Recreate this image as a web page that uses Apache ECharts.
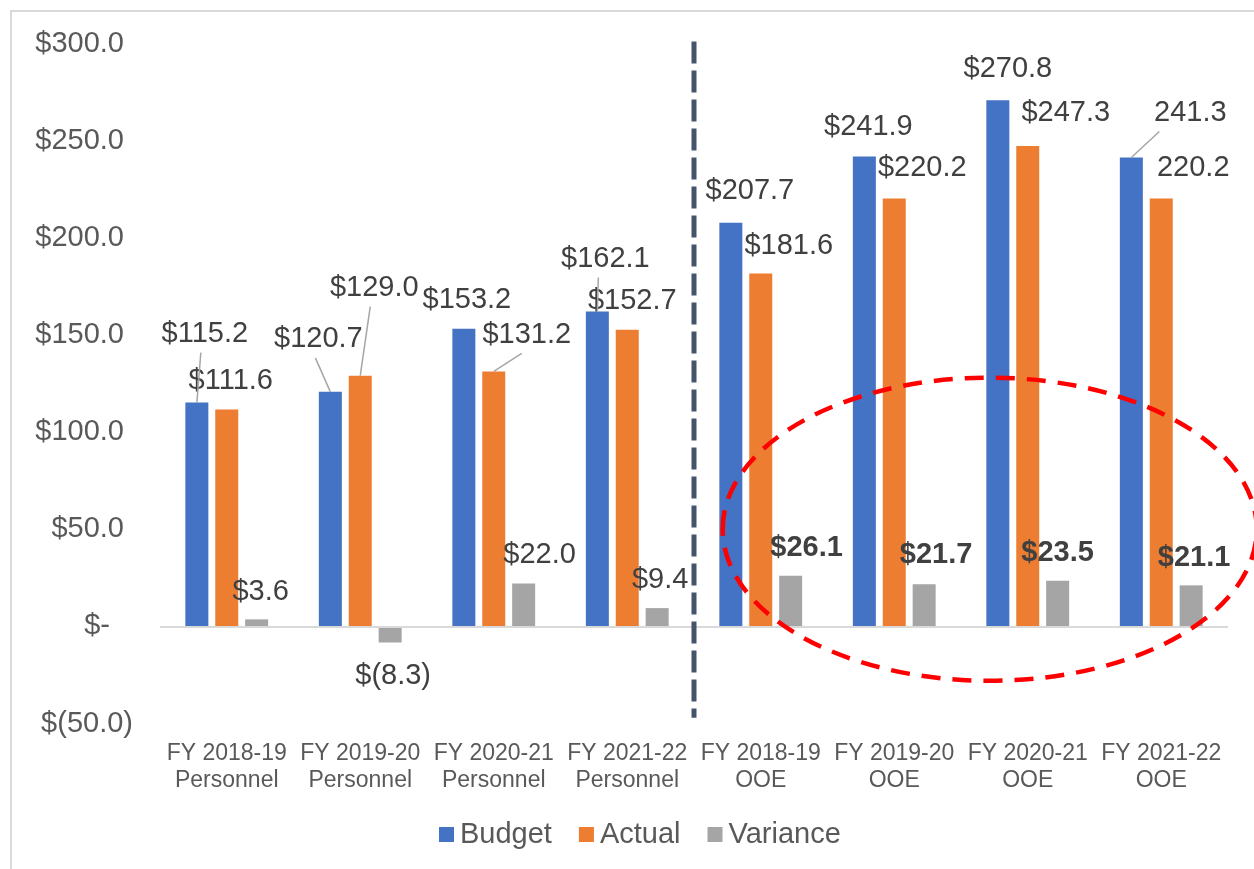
<!DOCTYPE html>
<html>
<head>
<meta charset="utf-8">
<script src="https://cdn.jsdelivr.net/npm/echarts/dist/echarts.min.js"></script>
<style>
  html, body { margin: 0; padding: 0; background: #fff; }
  #chart { width: 1254px; height: 869px; }
</style>
</head>
<body>
<div id="chart"></div>
<script>
// categories and values
const categories = [
  'FY 2018-19\nPersonnel', 'FY 2019-20\nPersonnel', 'FY 2020-21\nPersonnel', 'FY 2021-22\nPersonnel',
  'FY 2018-19\nOOE', 'FY 2019-20\nOOE', 'FY 2020-21\nOOE', 'FY 2021-22\nOOE'
];
const budget = [115.2, 120.7, 153.2, 162.1, 207.7, 241.9, 270.8, 241.3];
const actual = [111.6, 129.0, 131.2, 152.7, 181.6, 220.2, 247.3, 220.2];
const variance = [3.6, -8.3, 22.0, 9.4, 26.1, 21.7, 23.5, 21.1];
const yTicks = { min: -50, max: 300, step: 50 };

// labels shown without "$" in the source, and the bold variance labels
const bareLabelIdx = [7];
const boldVarianceIdx = [4, 5, 6, 7];

// label nudges (px) to mimic the hand-placed Excel labels
const budgetNudge = [[8, -49], [-12, -33], [3, -9], [8, -33], [19, -12], [4, -10], [10, -12], [59, -25]];
const actualNudge = [[4, -9], [14, -68], [33, -17], [5, -9], [28, -8], [28, -11], [38, -13], [32, -11]];
const varianceNudge = [[4, -8], [3, 14], [16, -9], [3, -9], [16, -8], [12, -10], [0, -8], [3, -8]];
// leader lines: [series, index, x shift at the label end]
const leaders = [[0, 0, -4], [0, 1, -3], [1, 1, -4], [1, 2, -5], [0, 3, -7], [0, 7, -31]];

const FONT = "'Liberation Sans', Arial, sans-serif";
const BAR_W = 23;
const BAR_GAP = 0.3;

function money(v) {
  if (v === 0) return '$-';
  if (v < 0) return '$(' + Math.abs(v).toFixed(1) + ')';
  return '$' + v.toFixed(1);
}

function barSeries(name, values, color, nudges, seriesIdx) {
  return {
    name: name,
    type: 'bar',
    barWidth: BAR_W,
    barGap: (BAR_GAP * 100) + '%',
    itemStyle: { color: color },
    label: {
      show: true,
      fontFamily: FONT,
      fontSize: 29,
      color: '#404040',
      formatter: p => {
        const v = p.value;
        if (seriesIdx < 2 && bareLabelIdx.includes(p.dataIndex)) return v.toFixed(1);
        return money(v);
      }
    },
    data: values.map((v, i) => ({
      value: v,
      label: {
        position: v < 0 ? 'bottom' : 'top',
        offset: nudges[i],
        fontWeight: (seriesIdx === 2 && boldVarianceIdx.includes(i)) ? 'bold' : 'normal'
      }
    }))
  };
}

const chart = echarts.init(document.getElementById('chart'));

const series = [
  barSeries('Budget', budget, '#4472C4', budgetNudge, 0),
  barSeries('Actual', actual, '#ED7D31', actualNudge, 1),
  barSeries('Variance', variance, '#A5A5A5', varianceNudge, 2)
];
// zero line across the plot
series[0].markLine = {
  silent: true,
  symbol: 'none',
  label: { show: false },
  lineStyle: { color: '#D9D9D9', width: 2, type: 'solid' },
  data: [{ yAxis: 0 }]
};

chart.setOption({
  animation: false,
  backgroundColor: '#fff',
  textStyle: { fontFamily: FONT },
  grid: { left: 160, right: 26, top: 43.5, bottom: 145.5, outerBoundsMode: 'none' },
  legend: {
    data: ['Budget', 'Actual', 'Variance'],
    left: 434,
    top: 815,
    itemWidth: 15,
    itemHeight: 15,
    itemGap: 27,
    icon: 'rect',
    textStyle: { fontFamily: FONT, fontSize: 29, color: '#595959', padding: [0, 0, 0, 1] }
  },
  xAxis: {
    type: 'category',
    data: categories,
    axisLine: { show: false, onZero: false },
    axisTick: { show: false },
    axisLabel: {
      fontFamily: FONT,
      fontSize: 23,
      lineHeight: 27,
      color: '#595959',
      margin: 17,
      interval: 0
    }
  },
  yAxis: {
    type: 'value',
    min: yTicks.min,
    max: yTicks.max,
    interval: yTicks.step,
    splitLine: { show: false },
    axisLine: { show: false },
    axisTick: { show: false },
    axisLabel: {
      fontFamily: FONT,
      fontSize: 29,
      color: '#595959',
      margin: 27,
      formatter: v => {
        if (v > 0) return money(v) + '{p| }';
        if (v === 0) return money(v) + '{z| }';
        return money(v);
      },
      rich: {
        p: { width: 9, fontSize: 29 },
        z: { width: 23, fontSize: 29 }
      }
    }
  },
  series: series
});

// overlay: frame, divider, highlight ellipse, leader lines
const pxCat = i => chart.convertToPixel({ gridIndex: 0 }, [i, 0])[0];
const pxY = v => chart.convertToPixel({ gridIndex: 0 }, [0, v])[1];
const slot = pxCat(1) - pxCat(0);
const barX = (s, i) => pxCat(i) + (s - 1) * BAR_W * (1 + BAR_GAP);
const seriesVals = [budget, actual, variance];
const seriesNudge = [budgetNudge, actualNudge, varianceNudge];

const graphics = [
  {
    type: 'rect', z: 1,
    shape: { x: 11, y: 11, width: 1400, height: 1000 },
    style: { fill: 'none', stroke: '#D9D9D9', lineWidth: 2 }
  },
  {
    type: 'line', z: 100,
    shape: {
      x1: (pxCat(3) + pxCat(4)) / 2, y1: pxY(300) - 2,
      x2: (pxCat(3) + pxCat(4)) / 2, y2: pxY(-47)
    },
    style: { stroke: '#44546A', lineWidth: 5, lineDash: [22, 7] }
  },
  {
    type: 'ellipse', z: 100,
    shape: { cx: pxCat(5) + 0.715 * slot, cy: pxY(50), rx: 2.0 * slot, ry: pxY(0) - pxY(78) },
    style: { fill: 'none', stroke: '#FF0000', lineWidth: 4.5, lineDash: [19, 12] }
  }
];

leaders.forEach(([s, i, ex]) => {
  const v = seriesVals[s][i];
  const [dx, dy] = seriesNudge[s][i];
  const bx = barX(s, i);
  const by = pxY(v);
  graphics.push({
    type: 'line', z: 90,
    shape: { x1: bx + dx + ex, y1: by - 5 + dy + 4, x2: bx, y2: by },
    style: { stroke: '#A6A6A6', lineWidth: 1.5 }
  });
});

chart.setOption({ graphic: graphics });
</script>
</body>
</html>
